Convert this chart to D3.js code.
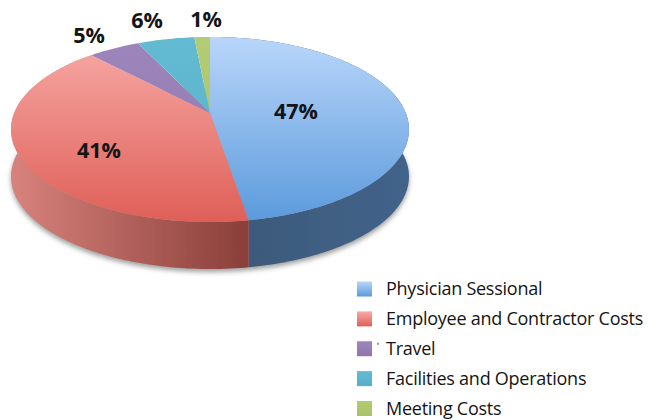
<!DOCTYPE html>
<html>
<head>
<meta charset="utf-8">
<script src="https://cdn.jsdelivr.net/npm/d3@7"></script>
<style>
  html, body { margin: 0; padding: 0; background: #fff; }
  text { font-family: "Open Sans", sans-serif; fill: #141414; }
</style>
</head>
<body>
<div id="chart"></div>
<script>
// Data
const categories = ["Physician Sessional", "Employee and Contractor Costs", "Travel", "Facilities and Operations", "Meeting Costs"];
// share of the pie as it is drawn, the printed labels are rounded differently
const shares = [47.4, 40.6, 5, 5.5, 1.5];
const percentLabels = ["47%", "41%", "5%", "6%", "1%"];

const topLight = ["#b9d6fa", "#f7aaa6", "#9d86bb", "#63bbd2", "#b3cc74"];
const topDark = ["#5b9adc", "#df5f58", "#8f76ad", "#57aecb", "#a9c267"];
const wallLight = ["#3c5a7b", "#d8827c"];
const wallDark = ["#42638a", "#8a3f39"];

// Layout
const width = 656, height = 420;
const cx = 210, apexY = 113;
const scaleX = 195.8, scaleY = 89.6, tilt = -0.178, depth = 47;
const labelPos = [[296, 111], [99, 150], [89, 35], [147, 20], [206, 19]];
const legendX = 357, legendTextX = 386, legendY = d3.scaleLinear().domain([0, 4]).range([289, 408.5]);

const svg = d3.select("#chart").append("svg")
    .attr("width", width)
    .attr("height", height);

const defs = svg.append("defs");
defs.append("filter").attr("id", "shadow")
    .attr("x", "-10%").attr("y", "-10%").attr("width", "120%").attr("height", "120%")
    .append("feGaussianBlur").attr("stdDeviation", 2.5);
defs.append("filter").attr("id", "soft")
    .append("feGaussianBlur").attr("stdDeviation", 0.35);

// Circle to tilted ellipse, the apex sits above the ellipse middle like the perspective in the original
function project(a, r = 1, dy = 0) {
  const u = Math.sin(a) * r, v = -Math.cos(a) * r;
  const w = 1 + tilt * v;
  return [cx + scaleX * u / w, apexY + scaleY * v / w + dy];
}

function arcPoints(a0, a1, dy = 0) {
  const n = Math.max(2, Math.ceil((a1 - a0) / 0.02));
  return d3.range(n + 1).map(i => project(a0 + (a1 - a0) * i / n, 1, dy));
}

const line = d3.line();
const slices = d3.pie().sort(null)(shares);

// Top and wall gradients
slices.forEach((s, i) => {
  const g = defs.append("linearGradient").attr("id", `top${i}`)
      .attr("gradientUnits", "userSpaceOnUse")
      .attr("x1", 0).attr("x2", 0).attr("y1", 37).attr("y2", 222);
  g.append("stop").attr("offset", 0).attr("stop-color", topLight[i]);
  g.append("stop").attr("offset", 1).attr("stop-color", topDark[i]);

  const lg = defs.append("linearGradient").attr("id", `key${i}`)
      .attr("x1", 0).attr("x2", 0).attr("y1", 0).attr("y2", 1);
  lg.append("stop").attr("offset", 0).attr("stop-color", topLight[i]);
  lg.append("stop").attr("offset", 1).attr("stop-color", topDark[i]);
});
wallLight.forEach((c, i) => {
  const pts = arcPoints(slices[i].startAngle, slices[i].endAngle);
  const g = defs.append("linearGradient").attr("id", `wall${i}`)
      .attr("gradientUnits", "userSpaceOnUse")
      .attr("x1", i ? d3.min(pts, p => p[0]) : 248).attr("x2", i ? 248 : d3.max(pts, p => p[0]))
      .attr("y1", 0).attr("y2", 0);
  g.append("stop").attr("offset", 0).attr("stop-color", c);
  g.append("stop").attr("offset", 1).attr("stop-color", wallDark[i]);
});

const pie3d = svg.append("g").attr("filter", "url(#soft)");

// Shadow under the disc
pie3d.append("path")
    .attr("d", line(arcPoints(0, 2 * Math.PI, depth + 3)) + "Z")
    .attr("fill", "#777")
    .attr("opacity", 0.7)
    .attr("filter", "url(#shadow)");

// Side wall, only the two big slices reach the front
wallLight.forEach((c, i) => {
  const s = slices[i];
  const upper = arcPoints(s.startAngle, s.endAngle);
  const lower = arcPoints(s.startAngle, s.endAngle, depth).reverse();
  pie3d.append("path")
      .attr("d", line(upper.concat(lower)) + "Z")
      .attr("fill", `url(#wall${i})`);
});

// Top faces
pie3d.selectAll("path.slice")
  .data(slices)
  .join("path")
    .attr("class", "slice")
    .attr("d", d => line([project(0, 0)].concat(arcPoints(d.startAngle, d.endAngle))) + "Z")
    .attr("fill", (d, i) => `url(#top${i})`);

// Percent labels
svg.selectAll("text.pct")
  .data(percentLabels)
  .join("text")
    .attr("class", "pct")
    .attr("x", (d, i) => labelPos[i][0])
    .attr("y", (d, i) => labelPos[i][1])
    .attr("dy", "0.36em")
    .attr("text-anchor", "middle")
    .style("font-size", "21.5px")
    .style("font-weight", 700)
    .text(d => d);

// Legend
const legend = svg.selectAll("g.key")
  .data(categories)
  .join("g")
    .attr("class", "key")
    .attr("transform", (d, i) => `translate(0,${legendY(i)})`);

legend.append("rect")
    .attr("x", legendX)
    .attr("y", -7.5)
    .attr("width", 15)
    .attr("height", 15)
    .attr("fill", (d, i) => `url(#key${i})`);

legend.append("text")
    .attr("x", legendTextX)
    .attr("dy", "0.35em")
    .style("font-size", "18px")
    .style("letter-spacing", "-0.25px")
    .text(d => d);

// Stray speck left of "Travel" in the original
svg.append("rect")
    .attr("x", 377.5)
    .attr("y", legendY(2) - 6)
    .attr("width", 1)
    .attr("height", 2)
    .attr("fill", "#333");
</script>
</body>
</html>
